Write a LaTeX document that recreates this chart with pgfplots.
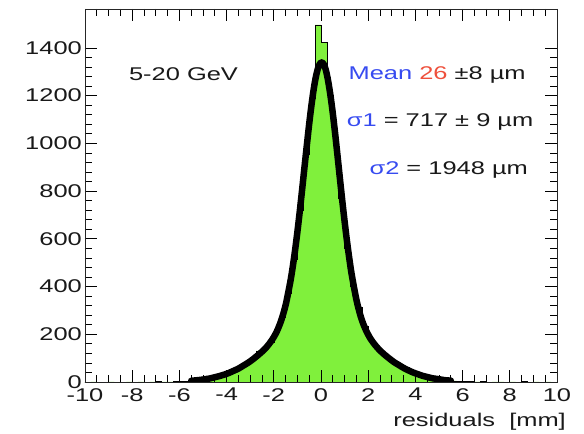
\documentclass[border=0pt]{standalone}
\usepackage{fontspec}
\setmainfont{Liberation Sans}[FakeStretch=1.38]
\usepackage{pgfplots}
\pgfplotsset{compat=1.18}
\definecolor{hgreen}{RGB}{128,240,60}
\definecolor{tblue}{RGB}{55,75,240}
\definecolor{tred}{RGB}{238,80,60}
\definecolor{tblack}{RGB}{25,25,25}
\newcommand{\tf}{\fontsize{18.5}{21}\selectfont}
\begin{document}
\begin{tikzpicture}
\path[use as bounding box] (-85bp,-52bp) rectangle (499bp,382bp);
\begin{axis}[
  name=ax,
  scale only axis, width=472bp, height=373bp,
  at={(0,0)}, anchor=south west,
  xmin=-10, xmax=10, ymin=0, ymax=1563,
  xtick={-10,-8,...,10}, ytick={0,200,...,1400},
  minor x tick num=3, minor y tick num=4,
  tick align=inside, major tick length=12bp, minor tick length=7bp,
  tick style={black, line width=0.7pt},
  axis line style={line width=0.8pt, black!85},
  axis on top=true,
  /pgf/number format/assume math mode=true,
  /pgf/number format/1000 sep={},
  ticklabel style={font=\tf, text=tblack},
  xticklabel style={inner sep=1bp, yshift=-5bp},
  yticklabel style={inner sep=1bp, xshift=-2bp},
]
\addplot[const plot, fill=hgreen, draw=black, line width=0.5pt] table {
x y
-10 0
-9.75 1
-9.5 0
-9.25 0
-9 1
-8.75 0
-8.5 0
-8.25 1
-8 0
-7.75 1
-7.5 0
-7.25 1
-7 2
-6.75 1
-6.5 1
-6.25 2
-6 3
-5.75 4
-5.5 6
-5.25 9
-5 12
-4.75 17
-4.5 23
-4.25 30
-4 39
-3.75 50
-3.5 63
-3.25 78
-3 96
-2.75 130
-2.5 140
-2.25 168
-2 208
-1.75 270
-1.5 370
-1.25 515
-1 720
-0.75 955
-0.5 1190
-0.25 1496
0 1422
0.25 1200
0.5 1000
0.75 770
1 560
1.25 400
1.5 314
1.75 235
2 176
2.25 140
2.5 118
2.75 100
3 80
3.25 64
3.5 60
3.75 42
4 31
4.25 24
4.5 17
4.75 12
5 20
5.25 7
5.5 5
5.75 3
6 2
6.25 3
6.5 1
6.75 2
7 0
7.25 1
7.5 1
7.75 0
8 1
8.25 0
8.5 2
8.75 0
9 1
9.25 0
9.5 1
9.75 0
10 0
} \closedcycle;
\addplot[black, line width=6.5bp, smooth, line join=round, line cap=round] coordinates {
(-5.5,5) (-5.3,7) (-5.1,9) (-4.9,12) (-4.7,15) (-4.5,20) (-4.3,25) (-4.1,31)
(-3.9,38) (-3.7,47) (-3.5,56) (-3.3,68) (-3.1,80) (-2.9,94) (-2.7,110) (-2.5,127)
(-2.3,147) (-2.1,173) (-1.9,206) (-1.7,254) (-1.5,322) (-1.3,420) (-1.2,481)
(-1.1,551) (-1.0,629) (-0.9,715) (-0.8,806) (-0.7,900) (-0.6,992) (-0.5,1082)
(-0.4,1163) (-0.3,1233) (-0.2,1287) (-0.1,1323) (0,1339) (0.1,1334) (0.2,1309)
(0.3,1263) (0.4,1201) (0.5,1126) (0.6,1040) (0.7,948) (0.8,854) (0.9,761)
(1.0,673) (1.1,591) (1.2,517) (1.3,451) (1.5,345) (1.7,269) (1.9,218) (2.1,181)
(2.3,154) (2.5,132) (2.7,114) (2.9,98) (3.1,83) (3.3,71) (3.5,59) (3.7,49)
(3.9,40) (4.1,33) (4.3,26) (4.5,21) (4.7,16) (4.9,13) (5.1,10) (5.3,7) (5.5,6)
};
\node[anchor=base west, font=\tf, text=tblack, inner sep=0pt] at (axis cs:-8.14,1262) {5-20 GeV};
\node[anchor=base west, font=\tf, text=tblack, inner sep=0pt] at (axis cs:1.16,1269) {\textcolor{tblue}{Mean} \textcolor{tred}{26} ±8 µm};
\node[anchor=base west, font=\tf, text=tblack, inner sep=0pt] at (axis cs:1.09,1070) {\textcolor{tblue}{σ1}\ = 717 ± 9 µm};
\node[anchor=base west, font=\tf, text=tblack, inner sep=0pt] at (axis cs:2.05,868) {\textcolor{tblue}{σ2}\ = 1948 µm};
\end{axis}
\node[anchor=base east, font=\tf, text=tblack, inner sep=0pt] at ([xshift=9bp, yshift=-44bp]ax.south east) {residuals\ \ [mm]};
\end{tikzpicture}
\end{document}
